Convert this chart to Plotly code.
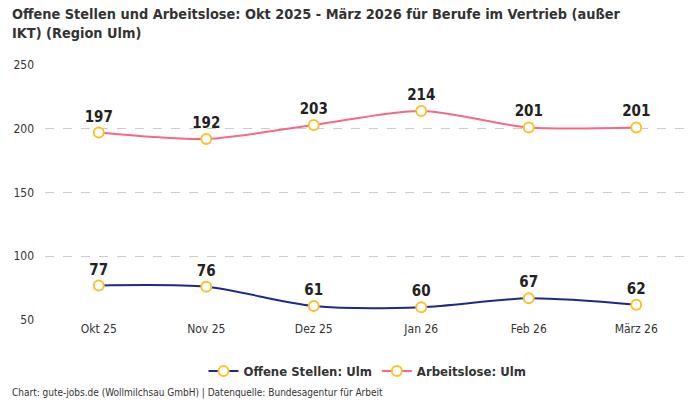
import plotly.graph_objects as go

months = ['Okt 25', 'Nov 25', 'Dez 25', 'Jan 26', 'Feb 26', 'März 26']
offene_stellen = [77, 76, 61, 60, 67, 62]
arbeitslose = [197, 192, 203, 214, 201, 201]
y_ticks = [50, 100, 150, 200, 250]

FONT = 'DejaVu Sans Condensed, Roboto, sans-serif'
MARKER = dict(size=10, color='white', line=dict(color='#fbc02d', width=2))
TITLE = ('Offene Stellen und Arbeitslose: Okt 2025 - März 2026 für Berufe im Vertrieb (außer<br>'
         'IKT) (Region Ulm)')
FOOTER = 'Chart: gute-jobs.de (Wollmilchsau GmbH) | Datenquelle: Bundesagentur für Arbeit'


def add_series(fig, y, name, color):
    fig.add_trace(go.Scatter(
        x=months, y=y, name=name, mode='lines+markers+text',
        line=dict(color=color, width=2, shape='spline', smoothing=0.8),
        marker=MARKER,
        text=[str(v) for v in y], textposition='top center',
        textfont=dict(family=FONT, size=15, color='#222222', weight='bold'),
    ))


fig = go.Figure()
add_series(fig, offene_stellen, 'Offene Stellen: Ulm', '#1a2a8c')
add_series(fig, arbeitslose, 'Arbeitslose: Ulm', '#f7678a')

fig.update_layout(
    width=700, height=400,
    margin=dict(l=45, r=10, t=65, b=80),
    paper_bgcolor='white', plot_bgcolor='white',
    font=dict(family=FONT, size=12, color='#333333'),
    showlegend=True,
    legend=dict(
        orientation='h', x=0.5, xanchor='center', y=-0.2, yanchor='middle',
        font=dict(family=FONT, size=13, color='#333333', weight='bold'),
    ),
    annotations=[
        dict(text=TITLE, xref='paper', yref='paper', x=-0.054, y=1.24,
             xanchor='left', yanchor='top', align='left', showarrow=False,
             font=dict(family=FONT, size=14.4, color='#333333', weight='bold')),
        dict(text=FOOTER, xref='paper', yref='paper', x=-0.054, y=-0.286,
             xanchor='left', yanchor='middle', showarrow=False,
             font=dict(family=FONT, size=10, color='#333333')),
    ],
)
fig.update_xaxes(range=[-0.5, 5.5], showgrid=False, showline=False, ticks='',
                 tickfont=dict(size=12, color='#333333'))
fig.update_yaxes(range=[50, 250], tickvals=y_ticks, showgrid=True,
                 gridcolor='#cccccc', griddash='dash', zeroline=False,
                 tickfont=dict(size=12, color='#333333'), ticklabelstandoff=10)

fig.write_html('out.html', config={'displayModeBar': False},
               post_script="document.body.style.margin='0';")
